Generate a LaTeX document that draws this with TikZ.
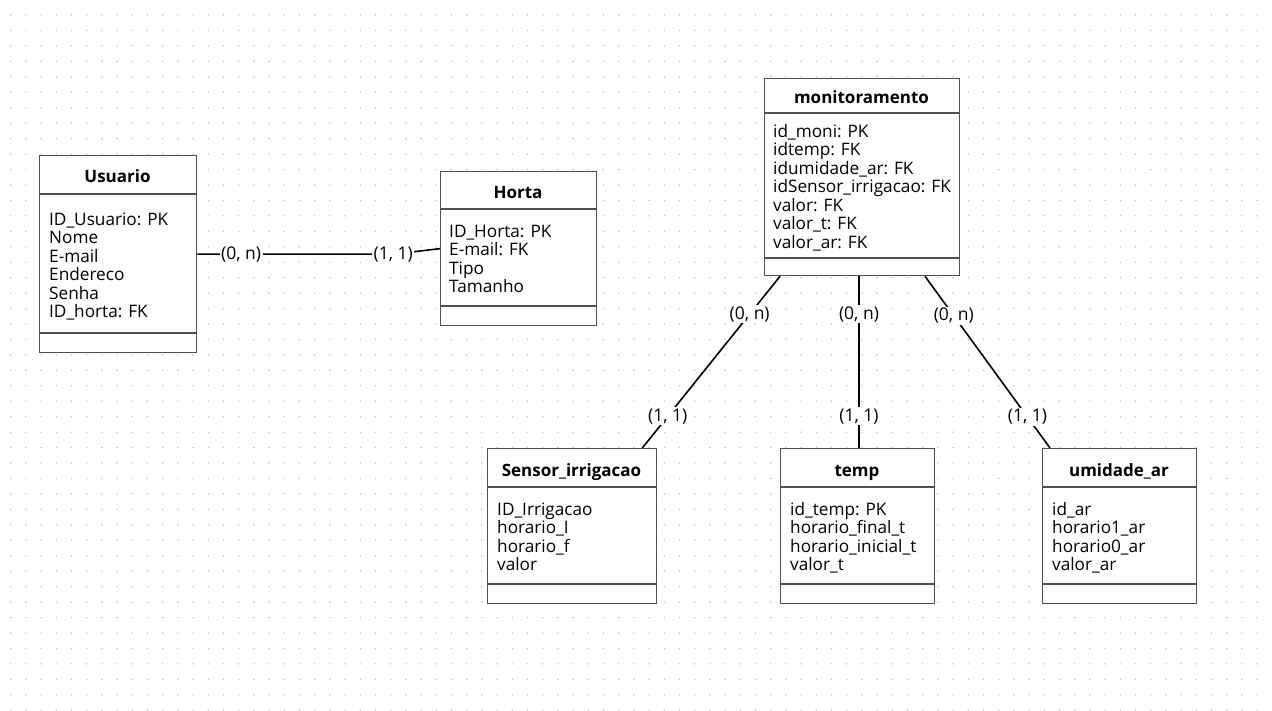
\documentclass[tikz,border=0pt]{standalone}
\usepackage{fontspec}
\setmainfont{Open Sans}
\usetikzlibrary{calc}
\definecolor{boxgray}{HTML}{505050}
\definecolor{dotgray}{HTML}{BDBDBD}
\begin{document}
\begin{tikzpicture}[x=1pt,y=-1pt,
  boxline/.style={draw=boxgray, line width=1.3pt},
  entity/.style={boxline, rectangle, inner sep=0pt, anchor=north west, fill=white},
  etitle/.style={font=\fontsize{17}{18}\selectfont\bfseries, inner sep=0pt, anchor=base},
  attr/.style={font=\fontsize{17.2}{18}\selectfont, inner sep=0pt, anchor=base west},
  lbl/.style={font=\fontsize{17.5}{18}\selectfont, fill=white, inner sep=1.5pt},
  conn/.style={draw=black, line width=1.6pt}]
\useasboundingbox (0,0) rectangle (1272,710);
\fill[white] (0,0) rectangle (1272,710);
% dot grid
\foreach \i in {0,...,83}{
  \foreach \j in {0,...,45}{
    \fill[dotgray] (10.7+15.2*\i, 15+15.45*\j) circle (0.8);
  }
}
% Usuario
\node[entity, minimum width=157pt, minimum height=197pt] (u) at (39,155) {};
\draw[boxline] (39,194) -- (196,194);
\draw[boxline] (39,333) -- (196,333);
\node[etitle] (ut) at (117.5,182) {Usuario};
\foreach \t [count=\i from 0] in {ID\_Usuario: PK, Nome, E-mail, Endereco, Senha, ID\_horta: FK}
  \node[attr] (ua\i) at (49,225+18.5*\i) {\t};
% Horta
\node[entity, minimum width=156pt, minimum height=154pt] (h) at (440,171) {};
\draw[boxline] (440,209) -- (596,209);
\draw[boxline] (440,306) -- (596,306);
\node[etitle] (ht) at (518,198) {Horta};
\foreach \t [count=\i from 0] in {ID\_Horta: PK, E-mail: FK, Tipo, Tamanho}
  \node[attr] (ha\i) at (449,237+18.5*\i) {\t};
% monitoramento
\node[entity, minimum width=195pt, minimum height=197pt] (m) at (764,78) {};
\draw[boxline] (764,113) -- (959,113);
\draw[boxline] (764,258) -- (959,258);
\node[etitle] (mt) at (861.5,103) {monitoramento};
\foreach \t [count=\i from 0] in {id\_moni: PK, idtemp: FK, idumidade\_ar: FK, idSensor\_irrigacao: FK, valor: FK, valor\_t: FK, valor\_ar: FK}
  \node[attr] (ma\i) at (773,137+18.5*\i) {\t};
% Sensor_irrigacao
\node[entity, minimum width=169pt, minimum height=155pt] (s) at (487,448) {};
\draw[boxline] (487,487) -- (656,487);
\draw[boxline] (487,584) -- (656,584);
\node[etitle] (st) at (571.5,476) {Sensor\_irrigacao};
\foreach \t [count=\i from 0] in {ID\_Irrigacao, horario\_I, horario\_f, valor}
  \node[attr] (sa\i) at (497,515+18.5*\i) {\t};
% temp
\node[entity, minimum width=154pt, minimum height=155pt] (t) at (780,448) {};
\draw[boxline] (780,487) -- (934,487);
\draw[boxline] (780,584) -- (934,584);
\node[etitle] (tt) at (857,476) {temp};
\foreach \t [count=\i from 0] in {id\_temp: PK, horario\_final\_t, horario\_inicial\_t, valor\_t}
  \node[attr] (ta\i) at (790,515+18.5*\i) {\t};
% umidade_ar
\node[entity, minimum width=154pt, minimum height=155pt] (a) at (1042,448) {};
\draw[boxline] (1042,487) -- (1196,487);
\draw[boxline] (1042,584) -- (1196,584);
\node[etitle] (at) at (1119,476) {umidade\_ar};
\foreach \t [count=\i from 0] in {id\_ar, horario1\_ar, horario0\_ar, valor\_ar}
  \node[attr] (aa\i) at (1052,515+18.5*\i) {\t};
% connectors
\draw[conn] (u.east) -- node[lbl, pos=0.224] (l1) {(0, n)} ($(u.east)+(196,0)$) coordinate (k1) -- (h.west);
\node[lbl] (l2) at (k1) {(1, 1)};
\draw[conn] ($(m.south west)+(16,0)$) -- node[lbl, pos=0.22] (l3) {(0, n)} node[lbl, pos=0.815] (l4) {(1, 1)} ($(s.north east)+(-15,0)$);
\draw[conn] ($(m.south west)+(95,0)$) -- node[lbl, pos=0.22] (l5) {(0, n)} node[lbl, pos=0.815] (l6) {(1, 1)} ($(t.north west)+(79,0)$);
\draw[conn] ($(m.south west)+(161,0)$) -- node[lbl, pos=0.23] (l7) {(0, n)} node[lbl, pos=0.82] (l8) {(1, 1)} ($(a.north west)+(8,0)$);
\end{tikzpicture}
\end{document}
